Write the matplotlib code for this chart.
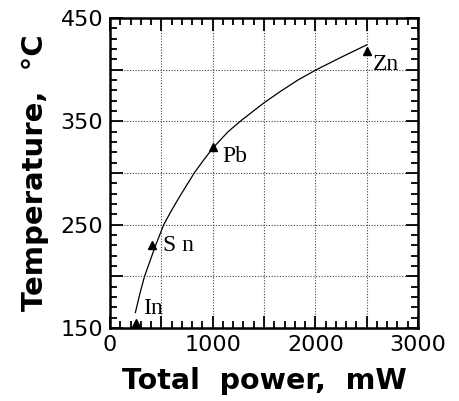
import matplotlib
matplotlib.use("Agg")
import matplotlib.pyplot as plt
from matplotlib.ticker import MultipleLocator, FuncFormatter

# melting points of the metals vs heater power
metals = ["In", "Sn", "Pb", "Zn"]
power_mw = [250, 405, 1000, 2500]
temp_c = [155, 230, 325, 418]

# fitted calibration curve
fit_power = [247, 290, 336, 390, 440, 523, 600, 680, 820, 900, 1000, 1150, 1280,
             1500, 1660, 1830, 2010, 2250, 2500]
fit_temp = [165, 183, 200, 215, 229, 250, 264, 277.5, 300, 311, 324, 340, 351,
            368, 379, 390, 400, 412, 424]

x_labels = [0, 1000, 2000, 3000]
y_labels = [150, 250, 350, 450]

# label offsets (in points) for each metal name
label_offsets = [(5, 10), (8, 0), (7, -6.5), (4.3, -10)]

fig = plt.figure(figsize=(4.59, 4.01), dpi=100)
ax = fig.add_axes([0.2397, 0.182, 0.6710, 0.773])

ax.plot(fit_power, fit_temp, color="black", lw=0.9)
ax.plot(power_mw, temp_c, ls="none", marker="^", ms=5.5, color="black")

for name, x, y, off in zip(metals, power_mw, temp_c, label_offsets):
    txt = "S n" if name == "Sn" else name
    ax.annotate(txt, (x, y), xytext=off, textcoords="offset points",
                fontsize=17, family="Liberation Serif", va="center", ha="left")

ax.set_xlim(0, 3000)
ax.set_ylim(150, 450)

ax.xaxis.set_major_locator(MultipleLocator(500))
ax.xaxis.set_minor_locator(MultipleLocator(100))
ax.yaxis.set_major_locator(MultipleLocator(50))
ax.yaxis.set_minor_locator(MultipleLocator(10))

ax.xaxis.set_major_formatter(FuncFormatter(lambda v, p: f"{v:.0f}" if round(v) in x_labels else ""))
ax.yaxis.set_major_formatter(FuncFormatter(lambda v, p: f"{v:.0f}" if round(v) in y_labels else ""))

ax.tick_params(which="both", direction="in", top=True, right=True, width=1.3, colors="black")
ax.tick_params(which="major", length=9, labelsize=16)
ax.tick_params(which="minor", length=5)
ax.tick_params(axis="x", which="major", pad=5)
ax.tick_params(axis="y", which="major", pad=5)
for lab in ax.get_xticklabels() + ax.get_yticklabels():
    lab.set_family("DejaVu Sans")

for s in ax.spines.values():
    s.set_linewidth(1.8)

ax.grid(True, which="major", ls=(0, (1, 1.5)), color="#444444", lw=0.8)

ax.set_xlabel("Total  power,  mW", fontsize=20.5, fontweight="bold", family="DejaVu Sans", labelpad=9)
ax.set_ylabel("Temperature,  °C", fontsize=21, fontweight="bold", family="DejaVu Sans", labelpad=8)

fig.savefig("out.png", dpi=100)
